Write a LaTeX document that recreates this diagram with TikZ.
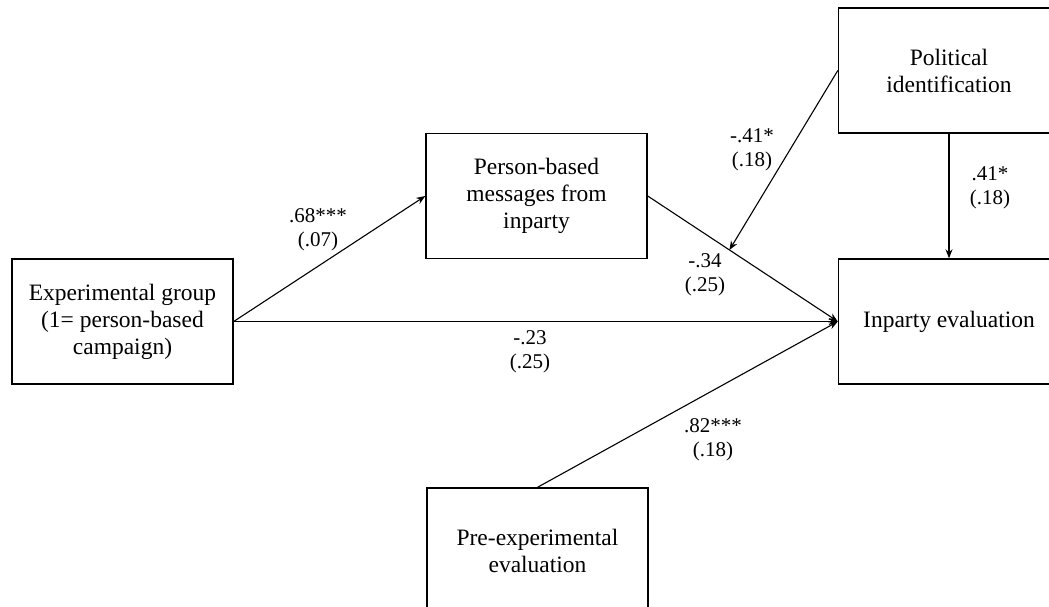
\documentclass[tikz,border=0pt]{standalone}
\usepackage{fontspec}
\setmainfont{Liberation Serif}
\usetikzlibrary{arrows.meta}
\tikzset{
  varbox/.style={draw, line width=1.4pt, minimum width=221pt, minimum height=125pt,
    inner sep=0pt, align=center, font=\fontsize{23.5}{27}\selectfont},
  coef/.style={align=center, inner sep=0pt, font=\fontsize{21}{24}\selectfont},
  effect/.style={line width=1.1pt, -{Stealth[length=9pt,width=7pt]}}
}

\begin{document}
\begin{tikzpicture}[x=1pt,y=-1pt]
        \clip (0,0) rectangle (1049,607);
        % boxes
        \node[varbox] (exp) at (122.5,321.5) {Experimental group\\(1= person-based\\campaign)};
        \node[varbox] (person) at (536.5,196) {Person-based\\messages from\\inparty};
        \node[varbox] (polid) at (949,70.5) {Political\\identification};
        \node[varbox] (inparty) at (949,321.5) {Inparty evaluation};
        \node[varbox] (preexp) at (537.5,550.5) {Pre-experimental\\evaluation};
        % effects
        \draw[effect] (exp.east) -- (person.west);
        \draw[effect] (exp.east) -- (inparty.west);
        \draw[effect] (person.east) -- coordinate[pos=0.43] (moder) (inparty.west);
        \draw[effect] (preexp.north) -- (inparty.west);
        \draw[effect] (polid.south) -- (inparty.north);
        \draw[effect] (polid.west) -- (moder);
        % coefficients
        \node[coef] (c1) at (318,229.5) {.68***\\(.07)};
        \node[coef] (c2) at (530,351.5) {-.23\\(.25)};
        \node[coef] (c3) at (705,275) {-.34\\(.25)};
        \node[coef] (c4) at (752,150) {-.41*\\(.18)};
        \node[coef] (c5) at (990,188) {.41*\\(.18)};
        \node[coef] (c6) at (713,439.5) {.82***\\(.18)};
    \end{tikzpicture}
\end{document}
